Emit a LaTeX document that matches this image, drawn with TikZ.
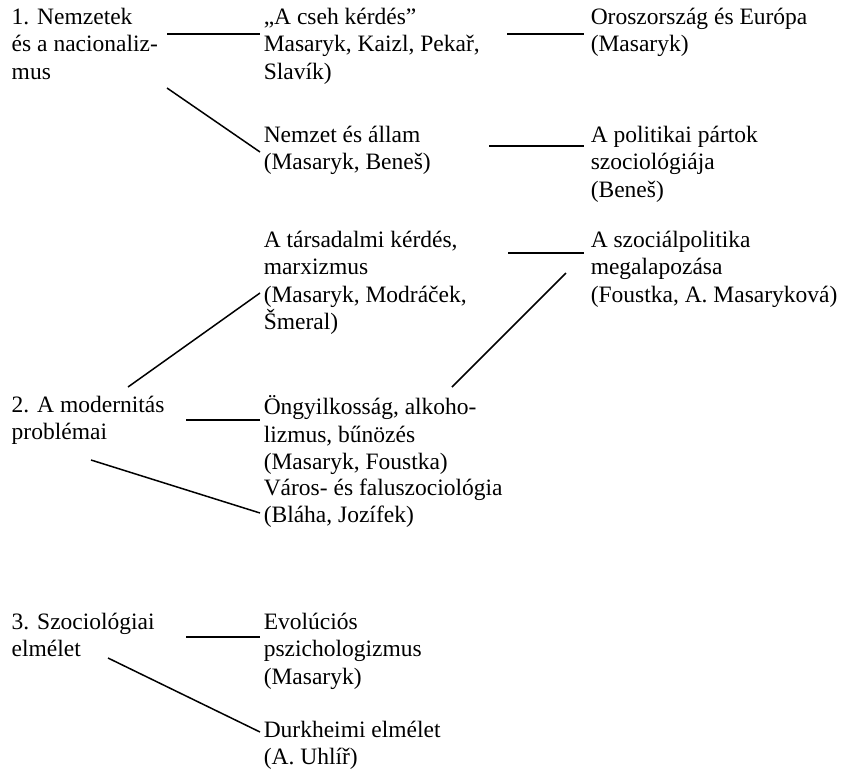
\documentclass[tikz,border=0pt]{standalone}
\usepackage{fontspec}
\setmainfont{Liberation Serif}
\usepackage{tikz}

\begin{document}
\begin{tikzpicture}[x=0.5pt, y=-0.5pt, line width=0.75pt,
		txt/.style={anchor=north west, align=left, inner sep=0pt, font=\fontsize{11.75}{13.8}\selectfont, execute at begin node=\strut}]
		\useasboundingbox (0,0) rectangle (842,772);
		
		\node[txt] at (11,7) (nemzet) {1. Nemzetek\\és a nacionaliz-\\mus};
		\node[txt] at (263,7) (cseh) {„A cseh kérdés”\\Masaryk, Kaizl, Pekař,\\Slavík)};
		\node[txt] at (590,7) (orosz) {Oroszország és Európa\\(Masaryk)};
		\node[txt] at (263,125) (allam) {Nemzet és állam\\(Masaryk, Beneš)};
		\node[txt] at (590,125) (partok) {A politikai pártok\\szociológiája\\(Beneš)};
		
		\node[txt] at (263,230) (tarsad) {A társadalmi kérdés,\\marxizmus\\(Masaryk, Modráček,\\Šmeral)};
		\node[txt] at (590,230) (szocpol) {A szociálpolitika\\megalapozása\\(Foustka, A. Masaryková)};
		\node[txt] at (11,395) (modern) {2. A modernitás\\problémai};
		\node[txt] at (263,395) (ongy) {Öngyilkosság, alkoho-\\lizmus, bűnözés\\(Masaryk, Foustka)};
		\node[txt] at (263,478) (varos) {Város- és faluszociológia\\(Bláha, Jozífek)};
		
		\node[txt] at (11,612) (elmelet) {3. Szociológiai\\elmélet};
		\node[txt] at (263,612) (evol) {Evolúciós\\pszichologizmus\\(Masaryk)};
		\node[txt] at (263,720) (durk) {Durkheimi elmélet\\(A. Uhlíř)};
		
		% line ends
		\coordinate (a1) at (167,34);  \coordinate (a2) at (260,34);
		\coordinate (b1) at (507,34);  \coordinate (b2) at (584,34);
		\coordinate (c1) at (167,88);  \coordinate (c2) at (260,152);
		\coordinate (d1) at (489,146); \coordinate (d2) at (584,146);
		\coordinate (e1) at (508,253); \coordinate (e2) at (584,253);
		\coordinate (f1) at (128,387); \coordinate (f2) at (260,293);
		\coordinate (g1) at (452,387); \coordinate (g2) at (566,273);
		\coordinate (h1) at (186,420); \coordinate (h2) at (260,420);
		\coordinate (i1) at (91,460);  \coordinate (i2) at (260,513);
		\coordinate (j1) at (186,637); \coordinate (j2) at (260,637);
		\coordinate (k1) at (108,658); \coordinate (k2) at (260,732);
		
		\draw (a1) -- (a2);
		\draw (b1) -- (b2);
		\draw (c1) -- (c2);
		\draw (d1) -- (d2);
		\draw (e1) -- (e2);
		\draw (f1) -- (f2);
		\draw (g1) -- (g2);
		\draw (h1) -- (h2);
		\draw (i1) -- (i2);
		\draw (j1) -- (j2);
		\draw (k1) -- (k2);
	\end{tikzpicture}
\end{document}
